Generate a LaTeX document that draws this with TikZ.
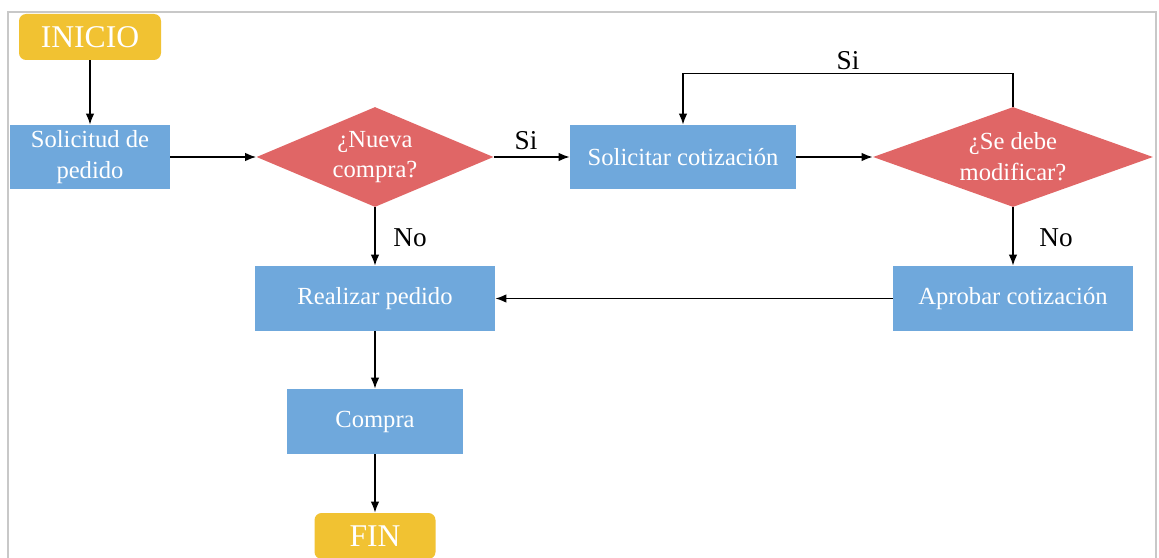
\documentclass[tikz,border=0pt]{standalone}
\usepackage{fontspec}
\setmainfont{Liberation Serif}
\usepackage{xcolor}
\usepackage{tikz}
\usetikzlibrary{arrows.meta}
\usetikzlibrary{shapes}

\definecolor{azul}{HTML}{6FA8DC}
\definecolor{rojo}{HTML}{E06666}
\definecolor{amarillo}{HTML}{F1C232}
\definecolor{marco}{HTML}{C8C8C8}

\begin{document}
\begin{tikzpicture}[
        proceso/.style={fill=azul, text=white, inner sep=0pt, align=center,
            font=\fontsize{14pt}{17.5pt}\selectfont},
        decision/.style={diamond, fill=rojo, text=white, inner sep=0pt, aspect=2.4,
            minimum height=2cm, align=center, font=\fontsize{14pt}{17.5pt}\selectfont},
        terminal/.style={fill=amarillo, text=white, rounded corners=4pt, inner sep=0pt,
            minimum height=0.92cm, font=\fontsize{18pt}{21pt}\selectfont},
        etiqueta/.style={font=\fontsize{15.5pt}{18pt}\selectfont},
        flecha/.style={-{Latex[length=2.2mm,width=1.7mm]}, line width=0.8pt}
    ]
        \useasboundingbox (0,0) rectangle (23.18,11.14);

        % Gray frame, open at the bottom
        \draw[marco, line width=1.1pt] (0.16,-0.2) -- (0.16,10.9) -- (23.12,10.9) -- (23.12,-0.2);

        % Start and end
        \node[terminal, minimum width=2.84cm] (inicio) at (1.8,10.4) {INICIO};
        \node[terminal, minimum width=2.42cm] (fin) at (7.5,0.42) {FIN};

        % Process boxes
        \node[proceso, minimum width=3.2cm, minimum height=1.28cm] (solicitud) at (1.8,8.0) {Solicitud de\\pedido};
        \node[proceso, minimum width=4.52cm, minimum height=1.28cm] (cotizacion) at (13.66,8.0) {Solicitar cotización};
        \node[proceso, minimum width=4.8cm, minimum height=1.3cm] (realizar) at (7.5,5.17) {Realizar pedido};
        \node[proceso, minimum width=4.8cm, minimum height=1.3cm] (aprobar) at (20.26,5.17) {Aprobar cotización};
        \node[proceso, minimum width=3.52cm, minimum height=1.3cm] (compra) at (7.5,2.71) {Compra};

        % Decisions
        \node[decision, minimum width=4.74cm] (nueva) at (7.5,8.0) {¿Nueva\\compra?};
        \node[decision, minimum width=5.6cm] (modificar) at (20.26,8.0) {¿Se debe\\modificar?};

        % Straight connectors
        \foreach \a/\b in {
            inicio/solicitud,
            solicitud/nueva,
            nueva/cotizacion,
            cotizacion/modificar,
            nueva/realizar,
            modificar/aprobar,
            aprobar/realizar,
            realizar/compra,
            compra/fin%
        } {
            \draw[flecha] (\a) -- (\b);
        }

        % Loop back to the quotation request
        \draw[flecha] (modificar.north) -- ++(0,0.66) -| (cotizacion.north);

        % Branch labels
        \node[etiqueta] (si1) at (10.52,8.32) {Si};
        \node[etiqueta] (no1) at (8.2,6.38) {No};
        \node[etiqueta] (si2) at (16.96,9.92) {Si};
        \node[etiqueta] (no2) at (21.12,6.38) {No};
    \end{tikzpicture}
\end{document}
